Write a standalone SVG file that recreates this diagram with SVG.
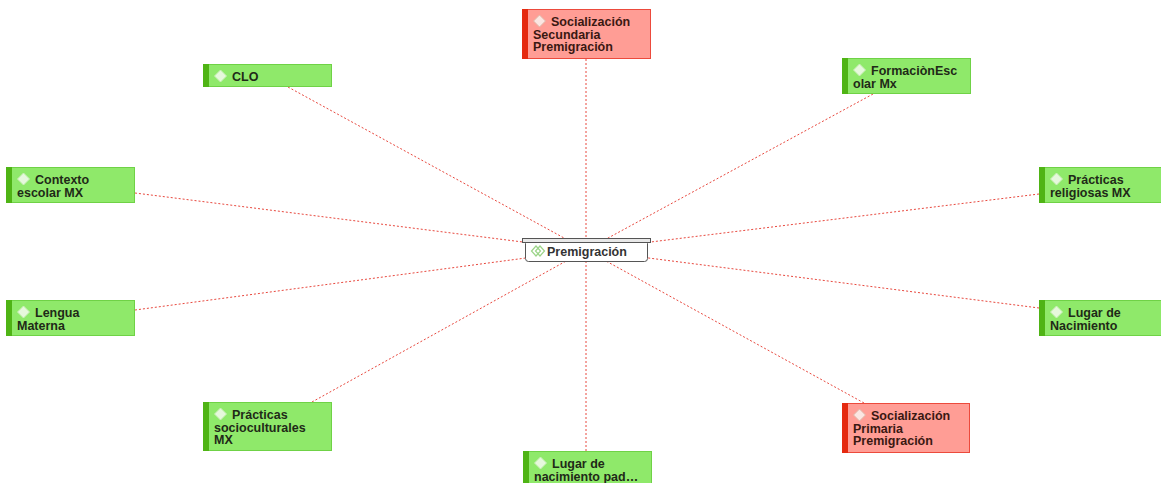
<svg xmlns="http://www.w3.org/2000/svg" width="1161" height="483" viewBox="0 0 1161 483">
<defs>
<style>
.bg{fill:#ffffff}
.edge{stroke:#e8483e;stroke-width:1;stroke-dasharray:2,2;fill:none}
.g{fill:#8fe96a;stroke:#6fd246;stroke-width:1}
.gbar{fill:#4fb415}
.r{fill:#ff9d95;stroke:#ec4a3c;stroke-width:1}
.rbar{fill:#e52a10}
.t{font-family:"Liberation Sans",Arial,sans-serif;font-size:12.5px;font-weight:bold;fill:#1f2a18}
.tr{font-family:"Liberation Sans",Arial,sans-serif;font-size:12.5px;font-weight:bold;fill:#3a1812}
.dg{fill:#e6f8dc;stroke:#c8efb4;stroke-width:1}
.dr{fill:#fbe6e2;stroke:#e0b8a8;stroke-width:1}
</style>
</defs>
<rect class="bg" x="0" y="0" width="1161" height="483"/>
<g id="connectors">
<line class="edge" x1="586" y1="59" x2="586" y2="250"/>
<line class="edge" x1="288" y1="87" x2="586" y2="250"/>
<line class="edge" x1="873" y1="94" x2="586" y2="250"/>
<line class="edge" x1="135" y1="193" x2="586" y2="250"/>
<line class="edge" x1="1039" y1="194" x2="586" y2="250"/>
<line class="edge" x1="135" y1="310" x2="586" y2="250"/>
<line class="edge" x1="1039" y1="308" x2="586" y2="250"/>
<line class="edge" x1="312" y1="402" x2="586" y2="250"/>
<line class="edge" x1="864" y1="403" x2="586" y2="250"/>
<line class="edge" x1="586" y1="451" x2="586" y2="250"/>
</g>
<g id="n-soc-sec">
<rect class="r" x="522.5" y="9.5" width="128" height="49"/>
<rect class="rbar" x="522" y="9" width="6" height="50"/>
<path class="dr" d="M539.5 15 L545.5 21 L539.5 27 L533.5 21 Z"/>
<text class="tr" x="551" y="26">Socialización</text>
<text class="tr" x="533" y="38.5">Secundaria</text>
<text class="tr" x="533" y="51">Premigración</text>
</g>
<g id="n-clo">
<rect class="g" x="203.5" y="64.5" width="128" height="22"/>
<rect class="gbar" x="203" y="64" width="6" height="23"/>
<path class="dg" d="M220.5 70 L226.5 76 L220.5 82 L214.5 76 Z"/>
<text class="t" x="232" y="81">CLO</text>
</g>
<g id="n-formacion">
<rect class="g" x="842.5" y="58.5" width="128" height="35"/>
<rect class="gbar" x="842" y="58" width="6" height="36"/>
<path class="dg" d="M859.5 64 L865.5 70 L859.5 76 L853.5 70 Z"/>
<text class="t" x="871" y="75">FormaciònEsc</text>
<text class="t" x="853" y="87.5">olar Mx</text>
</g>
<g id="n-contexto">
<rect class="g" x="6.5" y="167.5" width="128" height="35"/>
<rect class="gbar" x="6" y="167" width="6" height="36"/>
<path class="dg" d="M23.5 173 L29.5 179 L23.5 185 L17.5 179 Z"/>
<text class="t" x="35" y="184">Contexto</text>
<text class="t" x="17" y="196.5">escolar MX</text>
</g>
<g id="n-religiosas">
<rect class="g" x="1039.5" y="167.5" width="122" height="35"/>
<rect class="gbar" x="1039" y="167" width="6" height="36"/>
<path class="dg" d="M1056.5 173 L1062.5 179 L1056.5 185 L1050.5 179 Z"/>
<text class="t" x="1068" y="184">Prácticas</text>
<text class="t" x="1050" y="196.5">religiosas MX</text>
</g>
<g id="n-lengua">
<rect class="g" x="6.5" y="300.5" width="128" height="35"/>
<rect class="gbar" x="6" y="300" width="6" height="36"/>
<path class="dg" d="M23.5 306 L29.5 312 L23.5 318 L17.5 312 Z"/>
<text class="t" x="35" y="317">Lengua</text>
<text class="t" x="17" y="329.5">Materna</text>
</g>
<g id="n-lugar-nac">
<rect class="g" x="1039.5" y="300.5" width="122" height="35"/>
<rect class="gbar" x="1039" y="300" width="6" height="36"/>
<path class="dg" d="M1056.5 306 L1062.5 312 L1056.5 318 L1050.5 312 Z"/>
<text class="t" x="1068" y="317">Lugar de</text>
<text class="t" x="1050" y="329.5">Nacimiento</text>
</g>
<g id="n-socioculturales">
<rect class="g" x="203.5" y="402.5" width="128" height="48"/>
<rect class="gbar" x="203" y="402" width="6" height="49"/>
<path class="dg" d="M220.5 408 L226.5 414 L220.5 420 L214.5 414 Z"/>
<text class="t" x="232" y="419">Prácticas</text>
<text class="t" x="214" y="431.5">socioculturales</text>
<text class="t" x="214" y="444">MX</text>
</g>
<g id="n-soc-prim">
<rect class="r" x="842.5" y="403.5" width="127" height="49"/>
<rect class="rbar" x="842" y="403" width="6" height="50"/>
<path class="dr" d="M859.5 409 L865.5 415 L859.5 421 L853.5 415 Z"/>
<text class="tr" x="871" y="420">Socialización</text>
<text class="tr" x="853" y="432.5">Primaria</text>
<text class="tr" x="853" y="445">Premigración</text>
</g>
<g id="n-lugar-pad">
<rect class="g" x="523.5" y="451.5" width="128" height="34"/>
<rect class="gbar" x="523" y="451" width="6" height="34"/>
<path class="dg" d="M540.5 457 L546.5 463 L540.5 469 L534.5 463 Z"/>
<text class="t" x="552" y="468">Lugar de</text>
<text class="t" x="534" y="480.5">nacimiento pad…</text>
</g>
<g id="n-premigracion">
<rect x="525.5" y="240.5" width="122" height="21" rx="3" fill="#ffffff" stroke="#555555" stroke-width="1"/>
<rect x="522.5" y="238.5" width="128" height="4" fill="#e8e8e8" stroke="#555555" stroke-width="1"/>
<path d="M536 246 L540.5 251 L536 256 L531.5 251 Z" fill="none" stroke="#9bd488" stroke-width="1.2"/>
<path d="M540 246 L544.5 251 L540 256 L535.5 251 Z" fill="none" stroke="#9bd488" stroke-width="1.2"/>
<text x="547" y="255.5" font-family="Liberation Sans, Arial, sans-serif" font-size="12.5" font-weight="bold" fill="#333333">Premigración</text>
</g>
</svg>
